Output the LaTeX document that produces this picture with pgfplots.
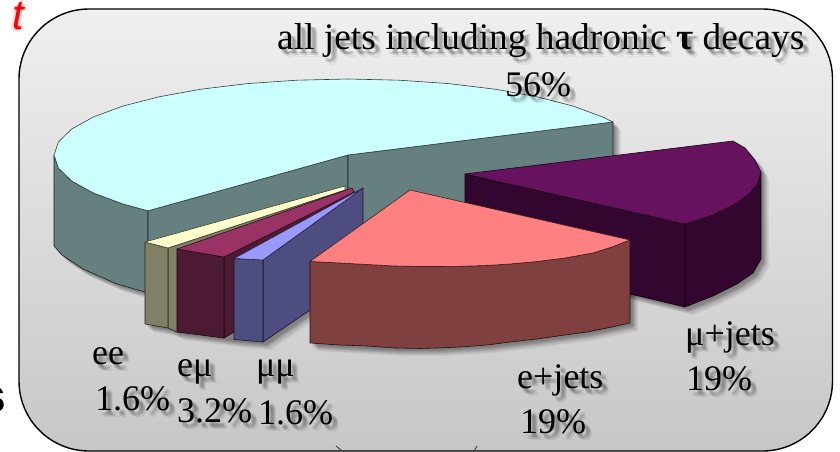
\documentclass[border=0pt]{standalone}
\usepackage{pgfplots}
\pgfplotsset{compat=1.18}
\usepackage{pgfplotstable}
\usepackage{fontspec}
\setmainfont{Liberation Serif}
\newfontfamily\sansfont{Liberation Sans}

% slice colours: top faces and side faces
\definecolor{jetsTop}{HTML}{CCFFFF}
\definecolor{jetsSide}{HTML}{668080}
\definecolor{muTop}{HTML}{66125F}
\definecolor{muSide}{HTML}{33062F}
\definecolor{eTop}{HTML}{FF8080}
\definecolor{eSide}{HTML}{804040}
\definecolor{eeTop}{HTML}{FFFFCC}
\definecolor{eeSide}{HTML}{808066}
\definecolor{emTop}{HTML}{993366}
\definecolor{emSide}{HTML}{4D1A33}
\definecolor{mmTop}{HTML}{9999FF}
\definecolor{mmSide}{HTML}{4D4D80}

% all jets slice
\pgfplotstableread{
x y
148 210.8
348 155
613 122
602.6 117
573.2 106.1
537 96.8
495 89.2
448.6 83.6
399 80.2
348 79
297 80.2
247.4 83.6
201 89.2
159 96.8
122.8 106.1
93.4 117
71.7 129
58.5 141.8
54 155
58.5 168.2
71.7 181
93.4 193
122.8 203.9
}\jetsTopT
\pgfplotstableread{
x y
54 155
58.5 168.2
71.7 181
93.4 193
122.8 203.9
148 210.8
148 295
145 292
117 284
83 269
62 255
54 246
}\jetsOuterT
\pgfplotstableread{
x y
148 210.8
348 155
348 262
148 295
}\jetsInnerLT
\pgfplotstableread{
x y
348 155
613 122
613 250
348 262
}\jetsInnerRT

% mu+jets slice
\pgfplotstableread{
x y
465 174
733 141
745 148
755 160
761 172
758 183
750 193
737 203
713 215
685 224
}\muTopT
\pgfplotstableread{
x y
465 174
685 224
685 307
465 255
}\muFaceT
\pgfplotstableread{
x y
685 224
713 215
737 203
750 193
758 183
761 172
761 259
753 273
737 284
713 296
685 307
}\muOuterT

% e+jets slice
\pgfplotstableread{
x y
410 190
630 240
612 247
593 253
565 258
537 261.5
510 264
487 265.5
460 266.3
437 266.5
420 266.5
395 266
367 264.5
340 263
310 261.5
}\eTopT
\pgfplotstableread{
x y
310 261.5
340 263
367 264.5
395 266
420 266.5
437 266.5
460 266.3
487 265.5
510 264
537 261.5
565 258
593 253
612 247
630 240
630 323
612 327
587 332
565 335
537 339
510 342
487 345
460 347
437 348
420 348.5
395 348
367 346
340 345
310 343
}\eOuterT

% ee slice
\pgfplotstableread{
x y
145 242
168 248
345 190
345 186
}\eeTopT
\pgfplotstableread{
x y
168 248
345 190
345 240
177 332
168 328
}\eeRightT
\pgfplotstableread{
x y
145 242
168 248
168 328
145 324
}\eeLeftT

% e mu slice
\pgfplotstableread{
x y
177 249
224 257
354 192
352 188
}\emTopT
\pgfplotstableread{
x y
224 257
354 191
354 260
224 338
}\emRightT
\pgfplotstableread{
x y
177 249
224 257
224 338
177 332
}\emLeftT

% mu mu slice
\pgfplotstableread{
x y
234 258.5
263 260
363 188
}\mmTopT
\pgfplotstableread{
x y
263 260
363 188
363 274
263 342
}\mmRightT
\pgfplotstableread{
x y
234 258.5
263 260
263 342
234 339.5
}\mmLeftT

% silhouettes that cast the drop shadow
\pgfplotstableread{
x y
613 122
602.6 117
537 96.8
448.6 83.6
348 79
247.4 83.6
159 96.8
93.4 117
58.5 141.8
54 155
54 246
62 255
83 269
117 284
145 292
348 290
613 250
}\jetsShadowT
\pgfplotstableread{
x y
465 174
733 141
755 160
761 172
761 259
753 273
737 284
713 296
685 307
465 255
}\muShadowT
\pgfplotstableread{
x y
410 190
630 240
630 323
587 332
537 339
487 345
437 348
395 348
340 345
310 343
310 261.5
}\eShadowT
\pgfplotstableread{
x y
145 242
345 186
363 188
363 274
263 342
234 339.5
224 338
177 332
168 328
145 324
}\frontShadowT

% soft drop shadow of a filled outline
\newcommand{\shadowstep}[3]{\addplot[fill=black,draw=none,fill opacity=0.05,xshift=#2pt,yshift=#3pt] table {#1} -- cycle;}
\newcommand{\softshadow}[1]{%
  \shadowstep{#1}{2}{-2}\shadowstep{#1}{3}{-3}\shadowstep{#1}{4}{-4}%
  \shadowstep{#1}{5}{-5}\shadowstep{#1}{6}{-6}\shadowstep{#1}{7}{-7}%
  \shadowstep{#1}{8}{-8}\shadowstep{#1}{5}{-3}\shadowstep{#1}{3}{-5}%
}
% one face of a slice
\newcommand{\face}[2]{\addplot[fill=#2,draw=black!75!#2,line width=0.6pt,line join=round] table {#1} -- cycle;}
% label with a blurred drop shadow: size, x, y, text
\newcommand{\textstep}[6]{\node[anchor=base west,inner sep=0pt,font=\fontsize{#1}{#1}\selectfont,text opacity=0.055,xshift=#5pt,yshift=#6pt] at (axis cs:#2,#3) {#4};}
\newcommand{\shtext}[4][36]{%
  \textstep{#1}{#2}{#3}{#4}{3}{-3}\textstep{#1}{#2}{#3}{#4}{4}{-4}\textstep{#1}{#2}{#3}{#4}{5}{-5}%
  \textstep{#1}{#2}{#3}{#4}{6}{-6}\textstep{#1}{#2}{#3}{#4}{7}{-7}\textstep{#1}{#2}{#3}{#4}{4}{-6}%
  \textstep{#1}{#2}{#3}{#4}{6}{-4}\textstep{#1}{#2}{#3}{#4}{5}{-3}\textstep{#1}{#2}{#3}{#4}{3}{-5}%
  \node[anchor=base west,inner sep=0pt,font=\fontsize{#1}{#1}\selectfont] at (axis cs:#2,#3) {#4};%
}
% glow round the red letter
\newcommand{\glowstep}[2]{\node[anchor=base west,inner sep=0pt,text=red,text opacity=0.08,font=\sansfont\itshape\fontsize{42}{42}\selectfont,xshift=#1pt,yshift=#2pt] at (axis cs:12.5,30) {t};}

\begin{document}
\begin{tikzpicture}
\path[use as bounding box] (0,0) rectangle (840pt,452pt);
\begin{axis}[
  at={(0,0)},anchor=south west,
  scale only axis,width=840pt,height=452pt,
  xmin=0,xmax=840,ymin=0,ymax=452,y dir=reverse,
  hide axis,clip=false]

% heading letter and neighbouring text at the edges
\glowstep{-2}{0}\glowstep{2}{0}\glowstep{0}{2}\glowstep{0}{-2}\glowstep{-3}{-3}\glowstep{3}{3}
\node[anchor=base west,inner sep=0pt,text=red,font=\sansfont\itshape\fontsize{42}{42}\selectfont] at (axis cs:12.5,30) {t};
\node[anchor=base east,inner sep=0pt,font=\sansfont\bfseries\fontsize{48}{48}\selectfont] at (axis cs:6.5,412) {s};

% rounded panel
\draw[rounded corners=70pt,line width=1.4pt,draw=black,top color=white!94!black,bottom color=white!78!black]
  (axis cs:19,9) rectangle (axis cs:832.5,451);

\draw[line width=0.8pt,black!80] (axis cs:336,446) -- (axis cs:342,451);
\draw[line width=0.8pt,black!80] (axis cs:477,446) -- (axis cs:474,451);

% shadows first, so that they only fall on the panel
\softshadow{\jetsShadowT}
\softshadow{\muShadowT}
\softshadow{\eShadowT}
\softshadow{\frontShadowT}

% all jets including hadronic tau decays
\face{\jetsOuterT}{jetsSide}
\face{\jetsInnerLT}{jetsSide}
\face{\jetsInnerRT}{jetsSide}
\face{\jetsTopT}{jetsTop}
% mu+jets
\face{\muFaceT}{muSide}
\face{\muOuterT}{muSide}
\face{\muTopT}{muTop}
% ee
\face{\eeRightT}{eeSide}
\face{\eeLeftT}{eeSide}
\face{\eeTopT}{eeTop}
% e mu
\face{\emRightT}{emSide}
\face{\emLeftT}{emSide}
\face{\emTopT}{emTop}
% mu mu
\face{\mmRightT}{mmSide}
\face{\mmLeftT}{mmSide}
\face{\mmTopT}{mmTop}
% e+jets
\face{\eOuterT}{eSide}
\face{\eTopT}{eTop}

% labels
\shtext[37.4]{277}{50}{all jets including hadronic \textbf{τ} decays}
\shtext{505}{96}{56\%}
\shtext{685}{345}{μ+jets}
\shtext{686}{390}{19\%}
\shtext{517}{388}{e+jets}
\shtext{520}{433}{19\%}
\shtext{92}{364}{ee}
\shtext{95}{410}{1.6\%}
\shtext{177}{376}{eμ}
\shtext{177}{422}{3.2\%}
\shtext{256}{376}{μμ}
\shtext{258}{424}{1.6\%}
\end{axis}
\end{tikzpicture}
\end{document}
